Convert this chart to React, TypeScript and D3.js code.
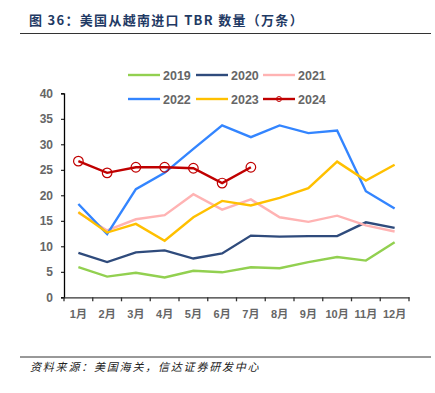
import React, { useRef, useEffect } from "react";
import * as d3 from "d3";

// monthly import volume, 万条
const months = ["1月", "2月", "3月", "4月", "5月", "6月", "7月", "8月", "9月", "10月", "11月", "12月"];
const yTicks = [0, 5, 10, 15, 20, 25, 30, 35, 40];

const v2019 = [5.9, 4.05, 4.8, 3.9, 5.2, 4.9, 5.9, 5.7, 6.9, 7.9, 7.2, 10.8];
const v2020 = [8.7, 6.9, 8.8, 9.2, 7.6, 8.6, 12.1, 11.9, 12.0, 12.0, 14.7, 13.6];
const v2021 = [16.6, 13.1, 15.3, 16.1, 20.2, 17.2, 19.2, 15.7, 14.8, 16.0, 14.1, 12.9];
const v2022 = [18.3, 12.4, 21.2, 24.4, 29.1, 33.7, 31.4, 33.7, 32.2, 32.7, 20.8, 17.4];
const v2023 = [16.7, 12.7, 14.4, 11.1, 15.7, 18.9, 18.0, 19.5, 21.4, 26.6, 22.9, 26.0];
const v2024 = [26.7, 24.4, 25.5, 25.5, 25.3, 22.4, 25.5];

const seriesNames = ["2019", "2020", "2021", "2022", "2023", "2024"];
const seriesValues = [v2019, v2020, v2021, v2022, v2023, v2024];
const seriesColors = ["#92D050", "#2F4B7C", "#FFB3B3", "#3385FF", "#FFC000", "#C00000"];

const W = 435;
const H = 393;

const App = () => {
  const ref = useRef<SVGSVGElement>(null);

  useEffect(() => {
    const svg = d3.select(ref.current);
    svg.selectAll("*").remove();

    const left = 64;
    const right = 409;
    const top = 93.3;
    const bottom = 297.3;

    const x = d3.scaleBand().domain(months).range([left, right]);
    const y = d3.scaleLinear().domain([0, 40]).range([bottom, top]);

    // title
    svg
      .append("text")
      .attr("x", 29)
      .attr("y", 25)
      .style("font-family", "'Noto Sans CJK SC', sans-serif")
      .style("font-size", "13px")
      .style("font-weight", "bold")
      .style("letter-spacing", "1.3px")
      .style("fill", "#1F3A64")
      .text("图 36：美国从越南进口 TBR 数量（万条）");

    svg.append("line").attr("x1", 20).attr("x2", 431).attr("y1", 33.5).attr("y2", 33.5)
      .attr("stroke", "#333").attr("stroke-width", 1);

    svg.append("line").attr("x1", 20).attr("x2", 431).attr("y1", 357).attr("y2", 357)
      .attr("stroke", "#333").attr("stroke-width", 1);

    svg
      .append("text")
      .attr("x", 30)
      .attr("y", 371)
      .style("font-family", "'Noto Sans CJK SC', sans-serif")
      .style("font-size", "11px")
      .style("font-style", "italic")
      .style("letter-spacing", "1.8px")
      .style("fill", "#222")
      .text("资料来源：美国海关，信达证券研发中心");

    // axes
    const yAxis = svg
      .append("g")
      .attr("transform", `translate(${left},0)`)
      .call(d3.axisLeft(y).tickValues(yTicks).tickSize(3).tickPadding(8));
    yAxis.select(".domain").attr("stroke", "#000").attr("stroke-width", 1.3);
    yAxis.selectAll("line").attr("stroke", "#000");
    yAxis
      .selectAll("text")
      .style("font-family", "Arial, 'Liberation Sans', sans-serif")
      .style("font-size", "12px")
      .style("font-weight", "bold")
      .style("fill", "#666");

    const xAxis = svg
      .append("g")
      .attr("transform", `translate(0,${bottom})`)
      .call(
        d3
          .axisBottom(x)
          .tickSize(0)
          .tickPadding(13)
      );
    xAxis.select(".domain").attr("stroke", "#333").attr("stroke-width", 1.3);
    xAxis
      .selectAll("text")
      .style("font-family", "Arial, 'Liberation Sans', 'Noto Sans CJK SC', sans-serif")
      .style("font-size", "11px")
      .style("font-weight", "bold")
      .style("fill", "#666");

    // category boundary ticks
    const bounds = d3.range(months.length + 1).map((i) => left + i * x.bandwidth());
    svg
      .append("g")
      .selectAll("line")
      .data(bounds)
      .enter()
      .append("line")
      .attr("x1", (d) => d)
      .attr("x2", (d) => d)
      .attr("y1", bottom)
      .attr("y2", bottom + 4)
      .attr("stroke", "#333")
      .attr("stroke-width", 1.3);

    const line = d3
      .line<number>()
      .x((d, i) => (x(months[i]) as number) + x.bandwidth() / 2)
      .y((d) => y(d));

    seriesValues.forEach((vals, si) => {
      svg
        .append("path")
        .datum(vals)
        .attr("fill", "none")
        .attr("stroke", seriesColors[si])
        .attr("stroke-width", 2.4)
        .attr("stroke-linejoin", "miter")
        .attr("d", line);
    });

    // markers for 2024
    svg
      .append("g")
      .selectAll("circle")
      .data(v2024)
      .enter()
      .append("circle")
      .attr("cx", (d, i) => (x(months[i]) as number) + x.bandwidth() / 2)
      .attr("cy", (d) => y(d))
      .attr("r", 4.8)
      .attr("fill", "none")
      .attr("stroke", "#C00000")
      .attr("stroke-width", 1.2);

    // legend
    const legendPos = [
      [128, 75],
      [196, 75],
      [263, 75],
      [128, 99],
      [196, 99],
      [263, 99],
    ];
    seriesNames.forEach((name, i) => {
      const [lx, ly] = legendPos[i];
      const g = svg.append("g").attr("transform", `translate(${lx},${ly})`);
      g.append("line").attr("x1", 0).attr("x2", 32).attr("y1", 0).attr("y2", 0)
        .attr("stroke", seriesColors[i]).attr("stroke-width", 2.4);
      if (i === 5) {
        g.append("circle").attr("cx", 16).attr("cy", 0).attr("r", 2.5)
          .attr("fill", "none").attr("stroke", seriesColors[i]).attr("stroke-width", 1);
      }
      g.append("text")
        .attr("x", 35)
        .attr("y", 4.5)
        .style("font-family", "Arial, 'Liberation Sans', sans-serif")
        .style("font-size", "12.5px")
        .style("font-weight", "bold")
        .style("fill", "#666")
        .text(name);
    });
  }, []);

  return (
    <svg
      ref={ref}
      width={W}
      height={H}
      style={{ position: "absolute", left: 0, top: 0, background: "#fff" }}
    />
  );
};

export default App;
